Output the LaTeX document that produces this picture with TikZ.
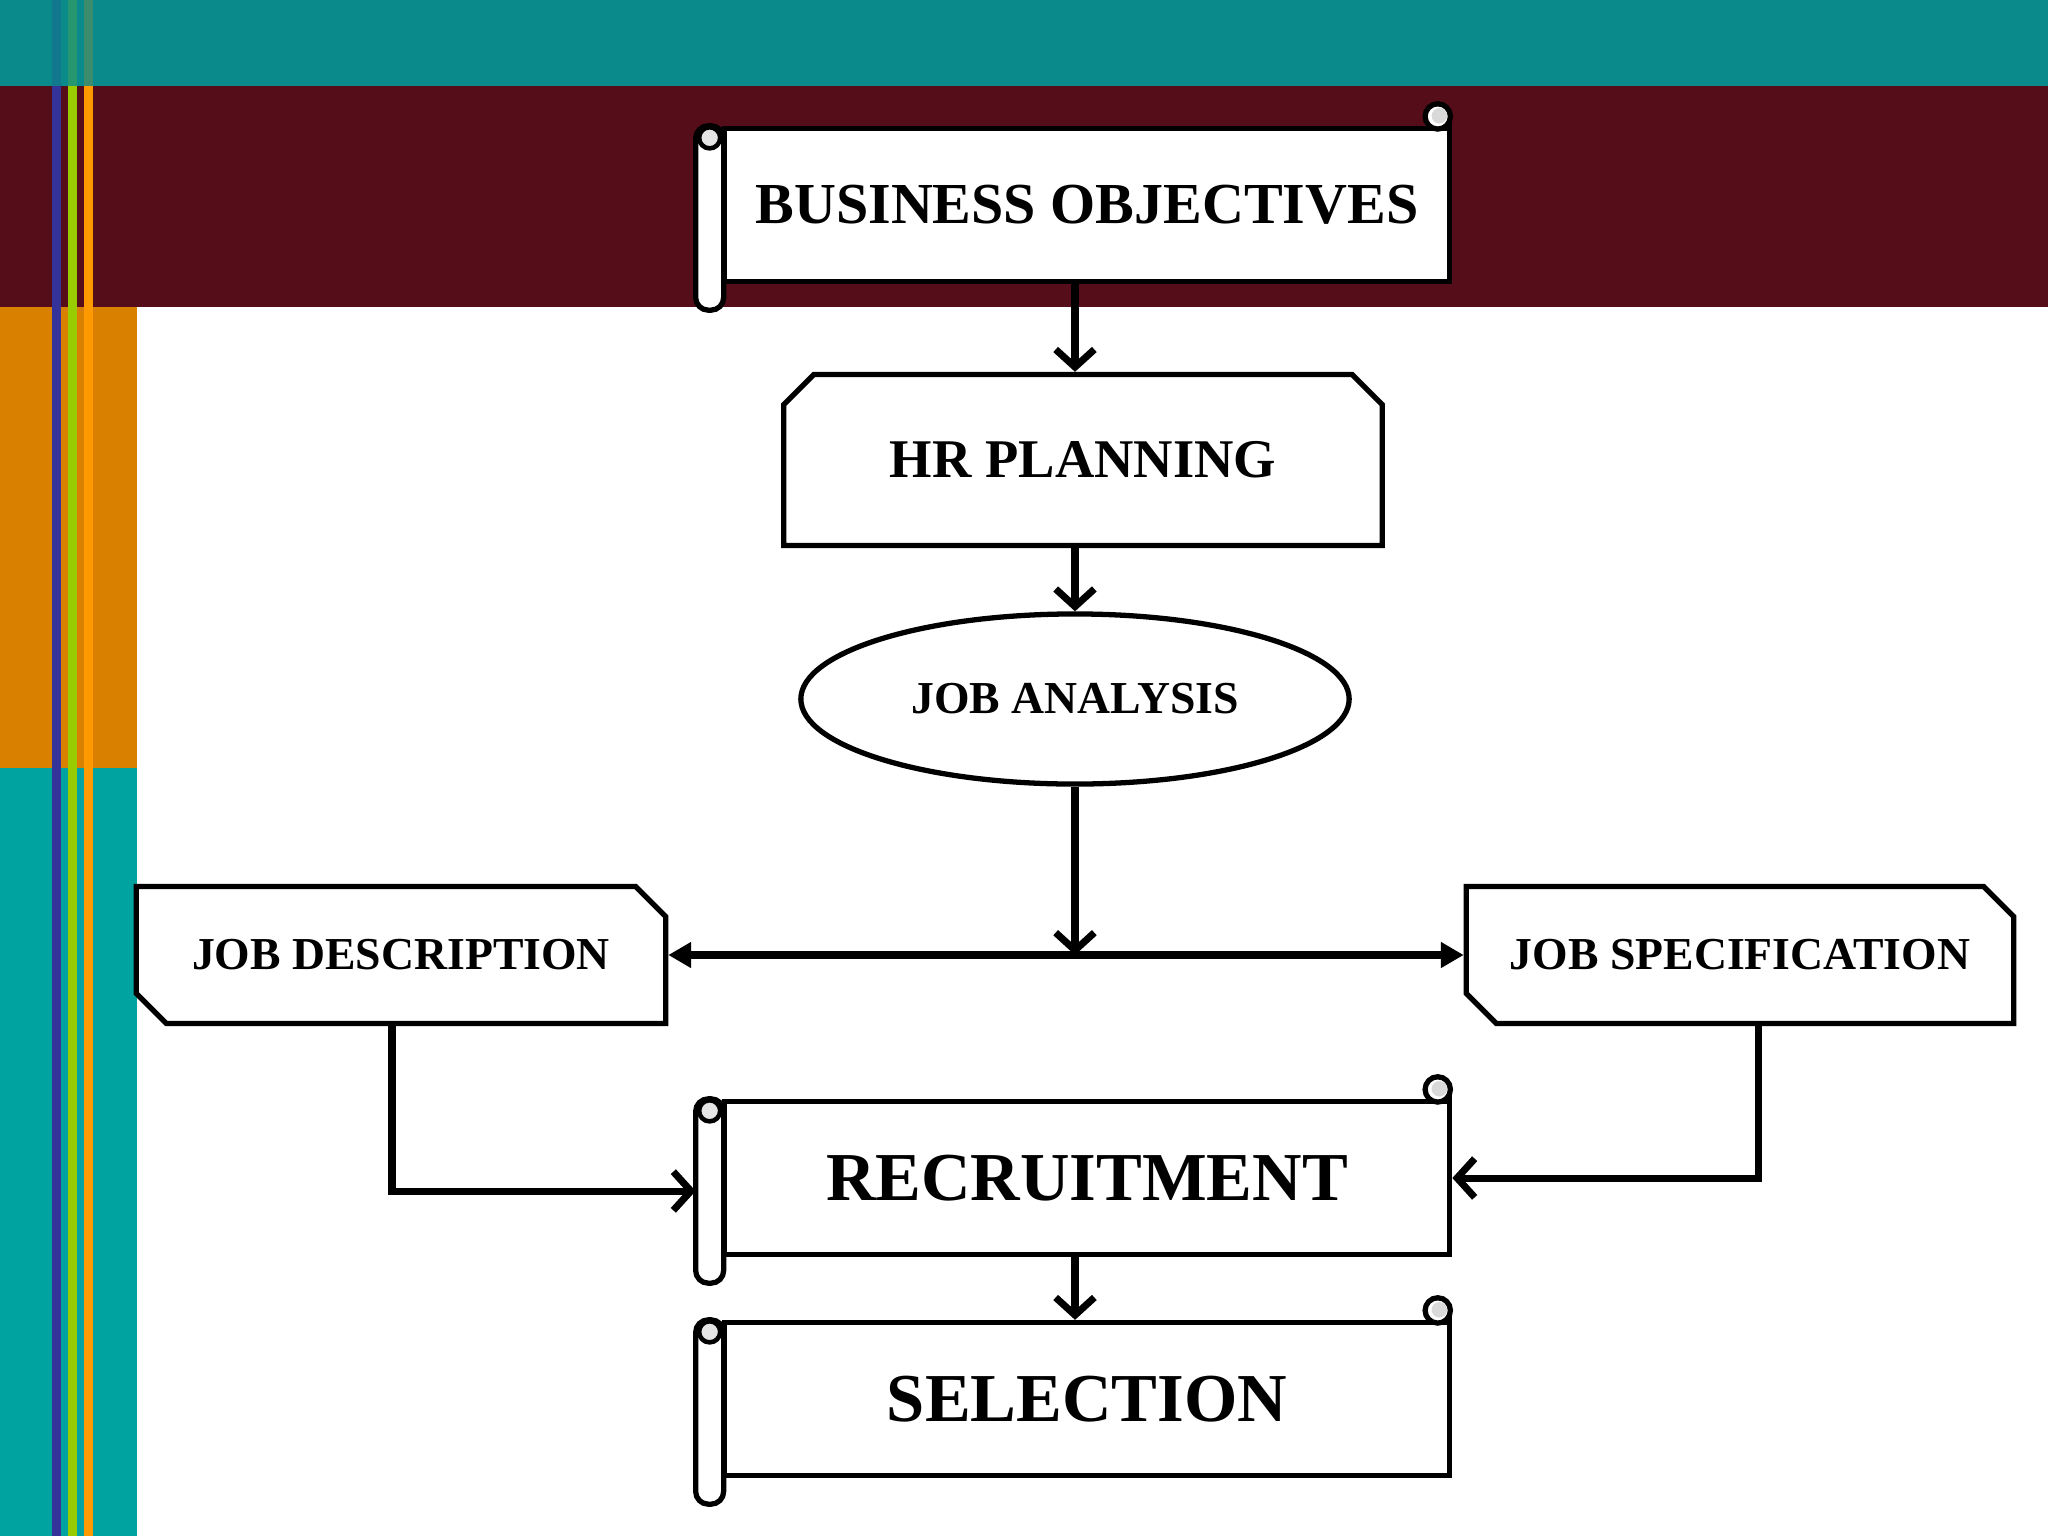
\documentclass[tikz,border=0pt]{standalone}
\usepackage{fontspec}
\setmainfont{Liberation Serif}
\usetikzlibrary{arrows.meta,shapes.geometric,shapes.misc,calc}

\definecolor{bandteal}{HTML}{0A8A8A}
\definecolor{bandmaroon}{HTML}{540D19}
\definecolor{sideorange}{HTML}{D98000}
\definecolor{sideteal}{HTML}{00A3A0}
\definecolor{stripeblue}{HTML}{333399}
\definecolor{stripegreen}{HTML}{99CC00}
\definecolor{stripeorange}{HTML}{FF9900}

\tikzset{
  outline/.style={draw=black, line width=1.5pt, fill=white},
  scrollbody/.style={outline, rectangle, minimum width=7.25cm, minimum height=1.53cm, inner sep=0pt},
  cutbox/.style={outline, chamfered rectangle, chamfered rectangle xsep=0.15cm, chamfered rectangle ysep=0.15cm, inner sep=0pt},
  flow/.style={line width=2pt, -{Straight Barb[length=5pt,width=11pt]}},
  both/.style={line width=2pt, {Triangle[length=6.5pt,width=7pt]}-{Triangle[length=6.5pt,width=7pt]}},
  bigtext/.style={font=\fontsize{19.5}{23}\selectfont\bfseries},
  midtext/.style={font=\fontsize{15.5}{18}\selectfont\bfseries},
  smalltext/.style={font=\fontsize{13}{16}\selectfont\bfseries}
}

% roll on the left and curl on the top right of a scroll
\newcommand{\scrolldeco}[1]{%
  \draw[outline, rounded corners=3.6pt] ($(#1.north west)+(-26,0)$) rectangle ($(#1.south west)+(2,26)$);
  \draw[line width=1.3pt, fill=gray!20] ($(#1.north west)+(-12,12)$) circle (3pt);
  \draw[line width=1.5pt] ($(#1.north east)+(-2.6,2.6)$) -- ++(0,-12);
  \draw[outline] ($(#1.north east)+(-14.6,-9.4)$) circle (3.6pt);
  \fill[gray!30] ($(#1.north east)+(-13,-10)$) circle (2.2pt);
  \coordinate (#1-roll) at ($(#1.west)+(-26,13)$);
}

\begin{document}
\begin{tikzpicture}[x=0.01cm, y=-0.01cm]
\useasboundingbox (0,0) rectangle (2048,1536);
% background
\fill[bandteal] (0,0) rectangle (2048,86);
\fill[bandmaroon] (0,86) rectangle (2048,307);
\fill[sideorange] (0,307) rectangle (137,768);
\fill[sideteal] (0,768) rectangle (137,1536);
\foreach \x/\c in {52/stripeblue,68/stripegreen,84/stripeorange}{
  \fill[\c] (\x,86) rectangle ++(9,1450);
  \fill[\c, fill opacity=0.2] (\x,0) rectangle ++(9,86);
}

% boxes
\node[scrollbody, midtext, font=\fontsize{16.5}{19}\selectfont\bfseries] (bo) at (1087,205) {BUSINESS OBJECTIVES};
\node[cutbox, midtext, chamfered rectangle corners={north west,north east}, minimum width=5.98cm, minimum height=1.71cm] (hrp) at (1083,460) {HR PLANNING};
\node[outline, ellipse, smalltext, minimum width=5.48cm, minimum height=1.7cm, inner sep=0pt] (ja) at (1075,699) {JOB ANALYSIS};
\node[cutbox, smalltext, chamfered rectangle corners={north east,south west}, minimum width=5.29cm, minimum height=1.37cm] (jd) at (401,955) {JOB DESCRIPTION};
\node[cutbox, smalltext, chamfered rectangle corners={north east,south west}, minimum width=5.47cm, minimum height=1.37cm] (js) at (1740,955) {JOB SPECIFICATION};
\node[scrollbody, bigtext] (rec) at (1087,1178) {RECRUITMENT};
\node[scrollbody, bigtext] (sel) at (1087,1399) {SELECTION};
\scrolldeco{bo}
\scrolldeco{rec}
\scrolldeco{sel}

% arrows
\coordinate (split) at (ja.south |- jd.east);
\draw[flow] (bo.south -| ja.south) -- (hrp.north -| ja.south);
\draw[flow] (hrp.south -| ja.south) -- (ja.north);
\draw[flow] (ja.south) -- (split);
\draw[both] (jd.east) -- (js.west);
\draw[flow] ($(jd.south)+(-9,0)$) |- (rec-roll);
\draw[flow] ($(js.south)+(18,0)$) |- (rec.east);
\draw[flow] (rec.south -| ja.south) -- (sel.north -| ja.south);
\end{tikzpicture}
\end{document}
